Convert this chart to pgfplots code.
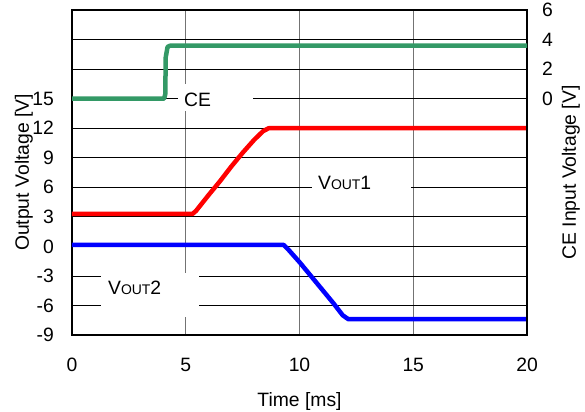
\documentclass[border=0pt]{standalone}
\usepackage{pgfplots}
\pgfplotsset{compat=1.18}
\usepackage{fontspec}
\setmainfont{Liberation Sans}
\definecolor{cegreen}{RGB}{51,153,102}
\newcommand{\vout}[1]{V{\fontsize{14}{15}\selectfont OUT}#1}
\begin{document}
\begin{tikzpicture}[font=\fontsize{19.4}{23}\selectfont]
\begin{axis}[
  at={(0,0)}, anchor=south west,
  scale only axis, width=455bp, height=325bp,
  xmin=0, xmax=20, ymin=-9, ymax=24,
  xtick={0,5,10,15,20}, ytick={-9,-6,-3,0,3,6,9,12,15,18,21,24},
  yticklabels={-9,-6,-3,0,3,6,9,12,15,,,},
  grid=major,
  major tick length=0pt,
  x grid style={black!55, line width=0.9bp},
  y grid style={black, line width=0.8bp},
  axis line style={black, line width=1.3bp},
  /pgf/number format/assume math mode=true,
  tick label style={inner sep=0pt},
  xticklabel style={anchor=center, yshift=-30bp},
  yticklabel style={anchor=east, xshift=-18bp},
  every axis x label/.style={at={(axis description cs:0.5,-0.206)}, anchor=center},
  every axis y label/.style={at={(axis description cs:-0.1055,0.5)}, anchor=center, rotate=90},
  xlabel={Time [ms]},
  ylabel={Output Voltage [V]},
]
\fill[white] (axis cs:4.66,16.52) rectangle (axis cs:7.96,13.78);
\fill[white] (axis cs:10.55,7.91) rectangle (axis cs:14.90,4.67);
\fill[white] (axis cs:1.27,-2.72) rectangle (axis cs:5.58,-7.18);
\node[anchor=west, inner sep=0pt] at (axis cs:4.92,14.9) {CE};
\node[anchor=west, inner sep=0pt] at (axis cs:10.81,6.45) {\vout{1}};
\node[anchor=west, inner sep=0pt] at (axis cs:1.58,-4.25) {\vout{2}};
\addplot[red, line width=4.5bp, line join=round] coordinates {
  (0,3.3) (5.3,3.3) (5.45,3.6) (6,5.2) (6.5,6.6) (7,8.1) (7.5,9.5)
  (8,10.8) (8.4,11.7) (8.65,12) (20,12)};
\addplot[blue, line width=4.5bp, line join=round] coordinates {
  (0,0.15) (9.3,0.15) (9.5,-0.3) (10,-1.6) (10.5,-3.0) (11,-4.4)
  (11.5,-5.8) (11.9,-7.0) (12.15,-7.4) (20,-7.4)};
\end{axis}
\begin{axis}[
  at={(0,0)}, anchor=south west,
  scale only axis, width=455bp, height=325bp,
  xmin=0, xmax=20, ymin=-16, ymax=6,
  axis y line*=right, axis x line=none,
  ytick={0,2,4,6},
  major tick length=0pt,
  axis line style={black, line width=1.3bp},
  /pgf/number format/assume math mode=true,
  tick label style={inner sep=0pt},
  yticklabel style={anchor=west, xshift=15bp},
  every axis y label/.style={at={(axis description cs:1.0967,0.5)}, anchor=center, rotate=90},
  ylabel={CE Input Voltage [V]},
]
\addplot[cegreen, line width=4.5bp, line join=round] coordinates {
  (0,0) (4.05,0) (4.1,0.3) (4.12,2.8) (4.2,3.5) (4.3,3.58) (20,3.58)};
\end{axis}
\pgfresetboundingbox
\path[use as bounding box] (-72bp,-77bp) rectangle (513bp,335bp);
\end{tikzpicture}
\end{document}
